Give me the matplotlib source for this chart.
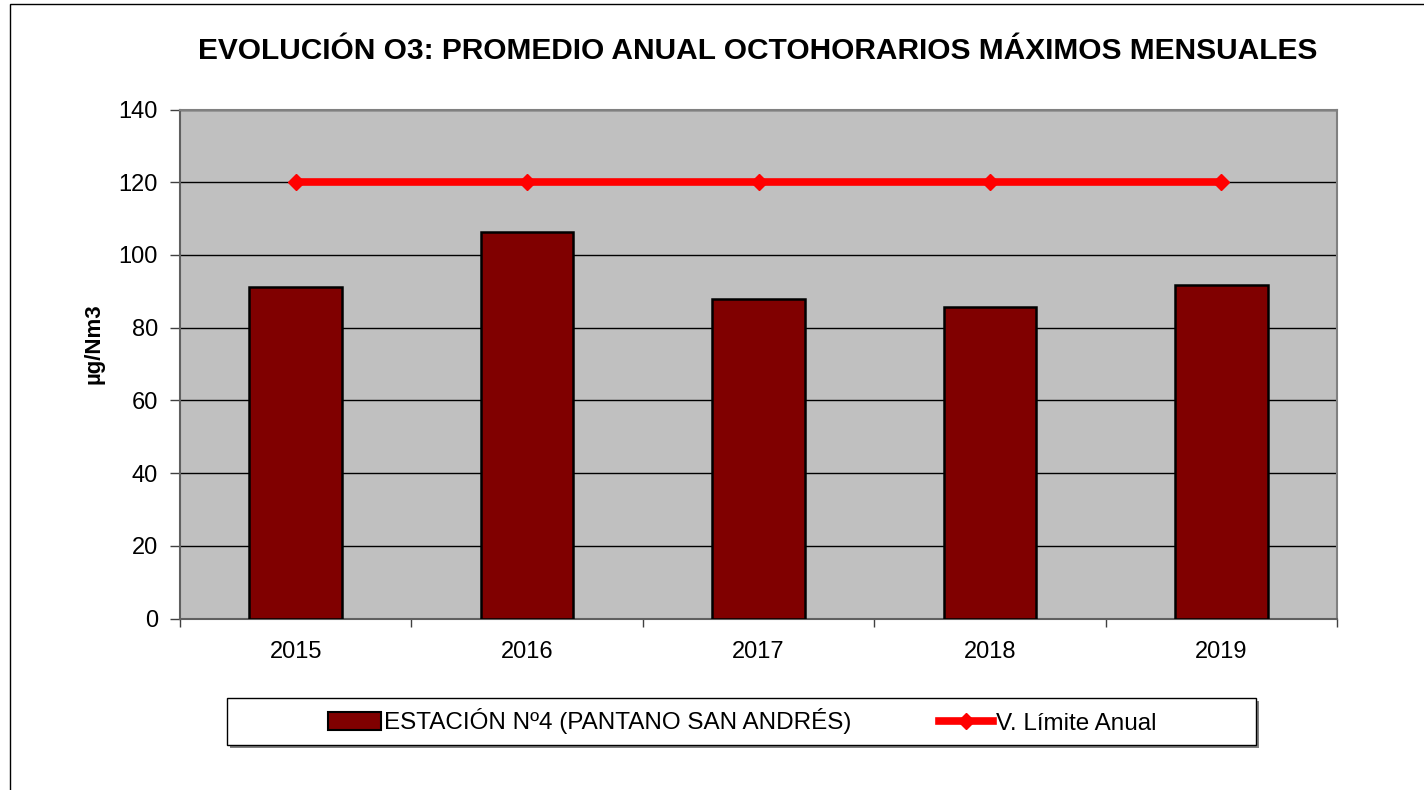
import matplotlib.pyplot as plt
from matplotlib.patches import Rectangle
from matplotlib.lines import Line2D
import numpy as np

plt.rcParams['font.family'] = ['Liberation Sans', 'DejaVu Sans']

years = ["2015", "2016", "2017", "2018", "2019"]
o3_values = [91.1, 106.3, 87.9, 85.7, 91.7]
limit_values = [120, 120, 120, 120, 120]

bar_label = "ESTACIÓN Nº4 (PANTANO SAN ANDRÉS)"
line_label = "V. Límite Anual"

fig = plt.figure(figsize=(14.24, 7.9), dpi=100)
ax = fig.add_axes([180 / 1424, 1 - 618.5 / 790, (1337 - 180) / 1424, (618.5 - 109.5) / 790])
ax.set_facecolor("#c0c0c0")

x = np.arange(len(years))
ax.bar(x, o3_values, width=0.4, color="#800000", edgecolor="black", linewidth=1.8, zorder=3)
ax.plot(x, limit_values, color="#ff0000", linewidth=5.5, marker="D", markersize=8.5, zorder=4)

ax.set_xlim(-0.5, len(years) - 0.5)
ax.set_ylim(0, 140)
ax.set_yticks(range(0, 141, 20))
ax.yaxis.grid(True, color="black", linewidth=1.0, zorder=1)
ax.set_axisbelow(True)

ax.set_xticks(x)
ax.set_xticklabels(years)
ax.set_xticks(np.arange(-0.5, len(years)), minor=True)
ax.tick_params(axis="x", which="major", length=0, pad=16, labelsize=17)
ax.tick_params(axis="x", which="minor", length=6, width=1.0, color="#404040")
ax.tick_params(axis="y", length=7, width=1.0, color="#404040", pad=9, labelsize=17)

for side in ["left", "bottom"]:
    ax.spines[side].set_color("#606060")
    ax.spines[side].set_linewidth(1.5)
for side in ["top", "right"]:
    ax.spines[side].set_color("#808080")
    ax.spines[side].set_linewidth(1.5)

ax.set_ylabel("µg/Nm3", fontsize=16, fontweight="bold")
ax.yaxis.set_label_coords((104 - 180) / (1337 - 180), 0.54)
fig.text(757.5 / 1424, 1 - 51 / 790, "EVOLUCIÓN O3: PROMEDIO ANUAL OCTOHORARIOS MÁXIMOS MENSUALES",
         ha="center", va="center", fontsize=21.5, fontweight="bold")

# chart border (top and left edges visible)
fig.patches.append(Rectangle((10 / 1424, -0.05), 1.1, 1.05 - 4 / 790, transform=fig.transFigure,
                             fill=False, edgecolor="black", linewidth=1.0))

# legend box with shadow
lx0, lx1, ly0, ly1 = 227, 1256, 698, 745
fig.patches.append(Rectangle(((lx0 + 3) / 1424, 1 - (ly1 + 3) / 790), (lx1 - lx0) / 1424, (ly1 - ly0) / 790,
                             transform=fig.transFigure, facecolor="#808080", edgecolor="none"))
fig.patches.append(Rectangle((lx0 / 1424, 1 - ly1 / 790), (lx1 - lx0) / 1424, (ly1 - ly0) / 790,
                             transform=fig.transFigure, facecolor="white", edgecolor="black", linewidth=1.0))

handles = [Rectangle((0, 0), 1, 1, facecolor="#800000", edgecolor="black", linewidth=1.5),
           Line2D([], [], color="#ff0000", linewidth=5.5, marker="D", markersize=8.5)]
fig.legend(handles, [bar_label, line_label], ncol=2, frameon=False, fontsize=17.5,
           loc="center", bbox_to_anchor=(742 / 1424, 1 - 721.5 / 790),
           handlelength=2.2, handletextpad=0.12, columnspacing=3.6)

fig.savefig("out.png", dpi=100)
